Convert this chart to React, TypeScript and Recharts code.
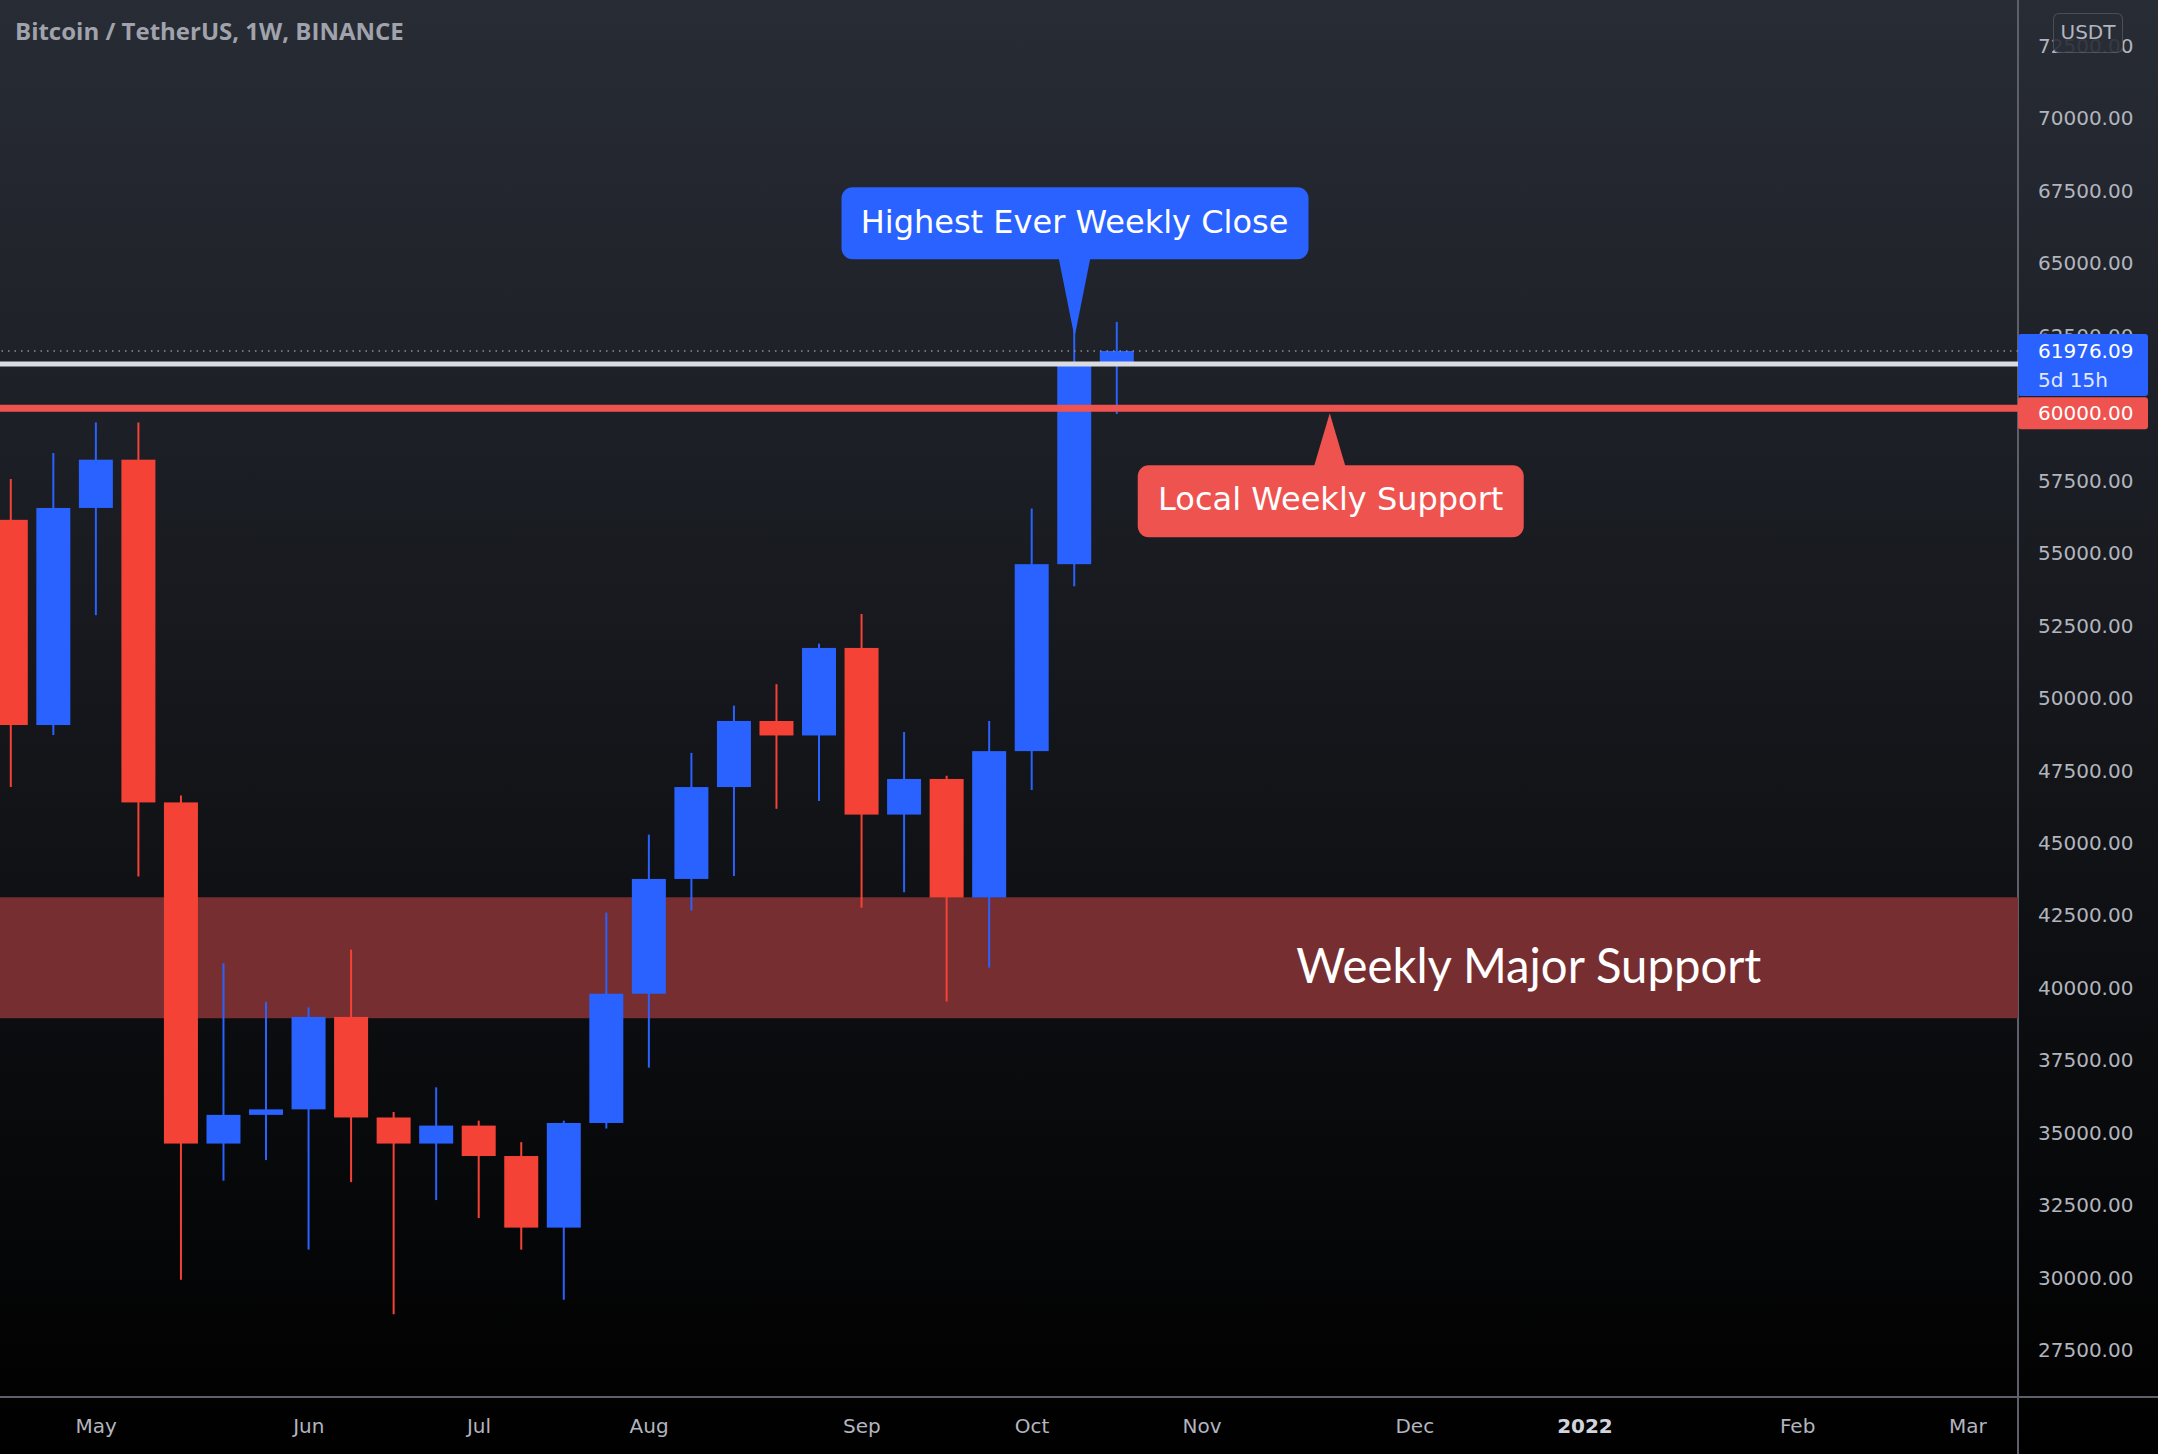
import React from 'react';
import {
  ComposedChart,
  Bar,
  XAxis,
  YAxis,
  ReferenceLine,
  ReferenceArea,
  ReferenceDot,
} from 'recharts';

// BTCUSDT weekly candles, index 0 = week of 19 Apr 2021
const weekIndex = [0, 1, 2, 3, 4, 5, 6, 7, 8, 9, 10, 11, 12, 13, 14, 15, 16, 17, 18, 19, 20, 21, 22, 23, 24, 25, 26];
const opens = [56150, 49070, 56560, 58225, 46400, 34630, 35620, 35810, 39000, 35530, 34630, 35250, 34200, 31730, 35340, 39800, 43760, 46930, 49210, 48710, 51730, 45980, 47210, 43120, 48170, 54620, 61530];
const highs = [57560, 58460, 59510, 59510, 46640, 40850, 39520, 39330, 41320, 35720, 36570, 35420, 34680, 35420, 42600, 45290, 48110, 49740, 50480, 51880, 52900, 48830, 47320, 49210, 56540, 62930, 62980];
const lows = [46930, 48730, 52860, 43840, 29930, 33350, 34060, 30970, 33300, 28740, 32680, 32060, 30970, 29240, 35150, 37250, 42670, 43860, 46180, 46450, 42770, 43300, 39530, 40700, 46830, 53860, 59800];
const closes = [49070, 56560, 58225, 46400, 34630, 35620, 35810, 39000, 35530, 34630, 35250, 34200, 31730, 35340, 39800, 43760, 46930, 49210, 48710, 51730, 45980, 47210, 43120, 48170, 54620, 61530, 61976.09];

// time axis: first weekly candle of each month
const monthTicks = [2, 7, 11, 15, 20, 24, 28, 33, 37, 42, 46];
const monthLabels = ['May', 'Jun', 'Jul', 'Aug', 'Sep', 'Oct', 'Nov', 'Dec', '2022', 'Feb', 'Mar'];

const priceTicks = [27500, 30000, 32500, 35000, 37500, 40000, 42500, 45000, 47500, 50000, 52500, 55000, 57500, 60000, 62500, 65000, 67500, 70000, 72500];

const lastPrice = 61976.09;
const countdown = '5d 15h';
const bestClose = 61530;
const localSupport = 60000;
const bandLow = 38950;
const bandHigh = 43130;

const highCalloutAt = { week: 25, price: 62450, text: 'Highest Ever Weekly Close' };
const lowCalloutAt = { week: 31, price: localSupport, text: 'Local Weekly Support' };
const bandLabelAt = { week: 35.68, text: 'Weekly Major Support' };

const X_DOMAIN = [-0.26, 47.18];
const Y_DOMAIN = [25886, 74085];

const BLUE = '#2962ff';
const RED = '#f44336';
const LINE_RED = '#ef5350';
const TEXT = '#b2b5be';

const rows = weekIndex.map((i, k) => ({
  i,
  o: opens[k],
  h: highs[k],
  l: lows[k],
  c: closes[k],
  range: [lows[k], highs[k]],
}));

const Candle = (props: any) => {
  const { x, y, width, height, payload } = props;
  if (!payload || !height) return null;
  const { o, h, l, c } = payload;
  const k = height / (h - l);
  const mid = x + width / 2;
  const top = y + (h - Math.max(o, c)) * k;
  const bot = y + (h - Math.min(o, c)) * k;
  const color = c >= o ? BLUE : RED;
  return (
    <g>
      <line x1={mid} x2={mid} y1={y} y2={y + height} stroke={color} strokeWidth={2} />
      <rect x={x} y={top} width={width} height={Math.max(bot - top, 2)} fill={color} />
    </g>
  );
};

const MonthTick = (props: any) => {
  const { x, y, payload } = props;
  const label = monthLabels[monthTicks.indexOf(payload.value)];
  const isYear = /^\d+$/.test(label);
  return (
    <text
      x={x}
      y={y + 36}
      textAnchor="middle"
      fontFamily="DejaVu Sans"
      fontSize={20}
      fontWeight={isYear ? 700 : 400}
      fill={isYear ? '#d1d4dc' : TEXT}
    >
      {label}
    </text>
  );
};

const PriceTick = (props: any) => {
  const { x, y, payload } = props;
  return (
    <text x={x + 20} y={y} dominantBaseline="central" fontFamily="DejaVu Sans" fontSize={20} fill={TEXT}>
      {payload.value.toFixed(2)}
    </text>
  );
};

const LastPriceTag = (props: any) => {
  const vb = props.viewBox;
  const x = vb.x + vb.width;
  const y = vb.y;
  return (
    <g>
      <rect x={x} y={y - 17} width={130} height={62} rx={3} fill={BLUE} />
      <text x={x + 20} y={y} dominantBaseline="central" fontFamily="DejaVu Sans" fontSize={20} fill="#ffffff">
        {lastPrice.toFixed(2)}
      </text>
      <text x={x + 20} y={y + 29} dominantBaseline="central" fontFamily="DejaVu Sans" fontSize={20} fill="#e3e8ff">
        {countdown}
      </text>
    </g>
  );
};

const SupportTag = (props: any) => {
  const vb = props.viewBox;
  const x = vb.x + vb.width;
  const y = vb.y;
  return (
    <g>
      <rect x={x} y={y - 11} width={130} height={32} rx={3} fill={LINE_RED} />
      <text x={x + 20} y={y + 5} dominantBaseline="central" fontFamily="DejaVu Sans" fontSize={20} fill="#ffffff">
        {localSupport.toFixed(2)}
      </text>
    </g>
  );
};

const HighCallout = (props: any) => {
  const { cx, cy } = props;
  return (
    <g>
      <rect x={cx - 233} y={cy - 150} width={467} height={72} rx={11} fill={BLUE} />
      <path d={`M${cx - 16},${cy - 80} L${cx + 16},${cy - 80} L${cx},${cy} Z`} fill={BLUE} />
      <text x={cx} y={cy - 104} textAnchor="middle" fontFamily="DejaVu Sans" fontSize={32} fill="#ffffff">
        {highCalloutAt.text}
      </text>
    </g>
  );
};

const LowCallout = (props: any) => {
  const { cx, cy } = props;
  return (
    <g>
      <path d={`M${cx - 16},${cy + 59} L${cx + 16},${cy + 59} L${cx},${cy + 5} Z`} fill={LINE_RED} />
      <rect x={cx - 192} y={cy + 57} width={386} height={72} rx={11} fill={LINE_RED} />
      <text x={cx + 1} y={cy + 102} textAnchor="middle" fontFamily="DejaVu Sans" fontSize={32} fill="#ffffff">
        {lowCalloutAt.text}
      </text>
    </g>
  );
};

const BandLabel = (props: any) => {
  const { cx, cy } = props;
  return (
    <text
      x={cx}
      y={cy + 25}
      textAnchor="middle"
      fontFamily="Lato"
      fontSize={48}
      fill="#ffffff"
      textLength={465}
      lengthAdjust="spacingAndGlyphs"
    >
      {bandLabelAt.text}
    </text>
  );
};

export default function App() {
  return (
    <div
      style={{
        position: 'absolute',
        left: 0,
        top: 0,
        width: 2158,
        height: 1454,
        overflow: 'hidden',
        background: 'linear-gradient(to bottom, #282c35 0%, #000000 100%)',
      }}
    >
      <div style={{ position: 'absolute', left: 2017, top: 0, width: 2, height: 1454, background: '#5d606b' }} />
      <div style={{ position: 'absolute', left: 0, top: 1396, width: 2158, height: 2, background: '#5d606b' }} />

      {/* main chart */}
      <div style={{ position: 'absolute', left: 0, top: 0 }}>
        <ComposedChart width={2158} height={1454} data={rows} margin={{ top: 0, right: 0, bottom: 0, left: 0 }}>
          <XAxis
            dataKey="i"
            type="number"
            domain={X_DOMAIN}
            allowDataOverflow
            ticks={monthTicks}
            interval={0}
            tick={<MonthTick />}
            tickLine={false}
            axisLine={false}
            tickSize={0}
            tickMargin={0}
            height={57}
          />
          <YAxis
            orientation="right"
            type="number"
            domain={Y_DOMAIN}
            allowDataOverflow
            ticks={priceTicks}
            interval={0}
            tick={<PriceTick />}
            tickLine={false}
            axisLine={false}
            tickSize={0}
            tickMargin={0}
            width={140}
          />
          <ReferenceArea y1={bandLow} y2={bandHigh} fill="#772e31" fillOpacity={1} stroke="none" />
          <ReferenceLine y={bestClose} stroke="#d9dbe0" strokeWidth={5} />
          <ReferenceLine y={localSupport} stroke={LINE_RED} strokeWidth={7} />
          <ReferenceLine y={lastPrice} stroke="#8a8d96" strokeWidth={1.5} strokeDasharray="1.5 5" />
          <Bar dataKey="range" barSize={34} shape={Candle} isAnimationActive={false} />
          <ReferenceDot x={bandLabelAt.week} y={(bandLow + bandHigh) / 2} r={0} shape={BandLabel} />
          <ReferenceDot x={highCalloutAt.week} y={highCalloutAt.price} r={0} shape={HighCallout} />
          <ReferenceDot x={lowCalloutAt.week} y={lowCalloutAt.price} r={0} shape={LowCallout} />
        </ComposedChart>
      </div>

      {/* price-scale tags drawn above the tick labels, same scales */}
      <div style={{ position: 'absolute', left: 0, top: 0, pointerEvents: 'none' }}>
        <ComposedChart width={2158} height={1454} data={rows} margin={{ top: 0, right: 140, bottom: 57, left: 0 }}>
          <XAxis dataKey="i" type="number" domain={X_DOMAIN} allowDataOverflow hide />
          <YAxis type="number" domain={Y_DOMAIN} allowDataOverflow hide />
          <Bar dataKey="range" barSize={34} shape={() => null} isAnimationActive={false} />
          <ReferenceLine y={lastPrice} stroke="none" label={LastPriceTag} />
          <ReferenceLine y={localSupport} stroke="none" label={SupportTag} />
        </ComposedChart>
      </div>

      <div
        style={{
          position: 'absolute',
          left: 2053,
          top: 13,
          width: 68,
          height: 38,
          borderRadius: 6,
          border: '1px solid rgba(140,143,154,0.35)',
          background: 'rgba(40,44,53,0.9)',
          color: TEXT,
          fontFamily: '"DejaVu Sans", sans-serif',
          fontSize: 20,
          lineHeight: '36px',
          textAlign: 'center',
        }}
      >
        USDT
      </div>

      <div
        style={{
          position: 'absolute',
          left: 15,
          top: 19,
          fontFamily: '"Open Sans", sans-serif',
          fontWeight: 700,
          fontSize: 24,
          lineHeight: '24px',
          color: '#a0a3ac',
          whiteSpace: 'nowrap',
        }}
      >
        Bitcoin / TetherUS, 1W, BINANCE
      </div>
    </div>
  );
}
